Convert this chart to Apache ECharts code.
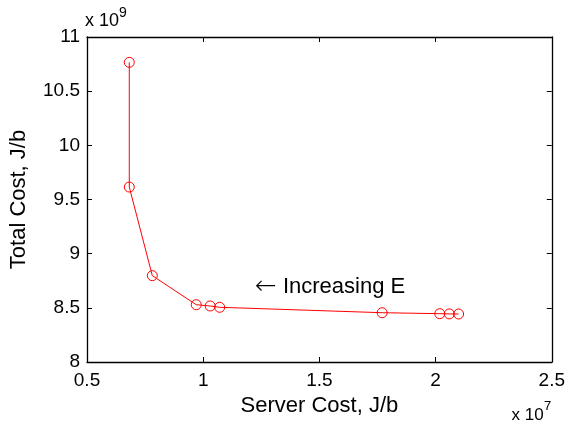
<!DOCTYPE html>
<html>
<head>
<meta charset="utf-8">
<script src="https://cdn.jsdelivr.net/npm/echarts@6/dist/echarts.min.js"></script>
<style>html,body{margin:0;padding:0;background:#fff;}#c{width:568px;height:423px;}</style>
</head>
<body>
<div id="c"></div>
<script>
// Server cost (x 10^7 J/b) and total cost (x 10^9 J/b)
const serverCost = [0.682, 0.682, 0.781, 0.970, 1.030, 1.071, 1.770, 2.018, 2.059, 2.099];
const totalCost  = [10.766, 9.615, 8.797, 8.529, 8.517, 8.505, 8.455, 8.446, 8.444, 8.443];
const xTicks = { min: 0.5, max: 2.5, step: 0.5 };
const yTicks = { min: 8, max: 11, step: 0.5 };
const xTitle = 'Server Cost, J/b';
const yTitle = 'Total Cost, J/b';
const annotationArrow = '\u2190';
const annotationText = 'Increasing E';

const FONT = '"Liberation Sans", Arial, Helvetica, sans-serif';
const chart = echarts.init(document.getElementById('c'), null, { renderer: 'canvas' });

const axisLine = { show: true, onZero: false, lineStyle: { color: '#000', width: 1.3 } };
const tick = { show: true, inside: true, length: 5, lineStyle: { color: '#000', width: 1 } };

chart.setOption({
  animation: false,
  backgroundColor: '#fff',
  grid: { left: 85, top: 37, right: 14, bottom: 61 },
  xAxis: [
    {
      type: 'value', min: xTicks.min, max: xTicks.max, interval: xTicks.step,
      position: 'bottom', axisLine, axisTick: tick, splitLine: { show: false },
      axisLabel: { color: '#000', fontSize: 19, fontFamily: FONT, margin: 9 },
      name: xTitle, nameLocation: 'middle', nameGap: 31,
      nameTextStyle: { color: '#000', fontSize: 22, fontFamily: FONT }
    },
    {
      type: 'value', min: xTicks.min, max: xTicks.max, interval: xTicks.step,
      position: 'top', axisLine, axisTick: tick, splitLine: { show: false },
      axisLabel: { show: false }
    }
  ],
  yAxis: [
    {
      type: 'value', min: yTicks.min, max: yTicks.max, interval: yTicks.step,
      position: 'left', axisLine, axisTick: tick, splitLine: { show: false },
      axisLabel: { color: '#000', fontSize: 19, fontFamily: FONT, margin: 7 },
      name: yTitle, nameLocation: 'middle', nameGap: 57,
      nameTextStyle: { color: '#000', fontSize: 22, fontFamily: FONT }
    },
    {
      type: 'value', min: yTicks.min, max: yTicks.max, interval: yTicks.step,
      position: 'right', axisLine, axisTick: tick, splitLine: { show: false },
      axisLabel: { show: false }
    }
  ],
  series: [{
    type: 'line',
    data: serverCost.map((x, i) => [x, totalCost[i]]),
    xAxisIndex: 0, yAxisIndex: 0,
    lineStyle: { color: '#ff0000', width: 1 },
    symbol: 'circle', symbolSize: 10, showAllSymbol: true,
    itemStyle: { color: 'rgba(0,0,0,0)', borderColor: '#ff0000', borderWidth: 1 },
    emphasis: { disabled: true }
  }],
  graphic: [
    { type: 'text', x: 255, y: 287,
      style: {
        text: '{a|' + annotationArrow + '}{b| ' + annotationText + '}',
        fill: '#000', textVerticalAlign: 'middle',
        rich: {
          a: { fontFamily: '"DejaVu Sans", sans-serif', fontSize: 26, fontWeight: 200, fill: '#000' },
          b: { fontFamily: FONT, fontSize: 22, fill: '#000' }
        }
      } },
    { type: 'text', x: 85, y: 21.5,
      style: { text: 'x 10', font: '18px ' + FONT, fill: '#000', textVerticalAlign: 'middle' } },
    { type: 'text', x: 119, y: 13,
      style: { text: '9', font: '14px ' + FONT, fill: '#000', textVerticalAlign: 'middle' } },
    { type: 'text', x: 511.5, y: 415.5,
      style: { text: 'x 10', font: '17px ' + FONT, fill: '#000', textVerticalAlign: 'middle' } },
    { type: 'text', x: 544, y: 406,
      style: { text: '7', font: '13px ' + FONT, fill: '#000', textVerticalAlign: 'middle' } }
  ]
});
</script>
</body>
</html>
